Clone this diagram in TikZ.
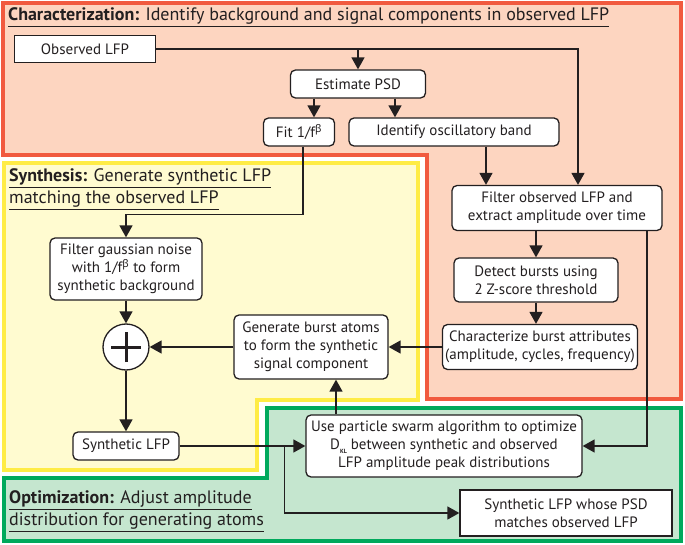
\documentclass[tikz,border=0pt]{standalone}
\usepackage{fontspec}
\setmainfont{PT Sans}
\newfontfamily\grk{Noto Sans}
\usetikzlibrary{arrows.meta}
\definecolor{ink}{HTML}{231F20}
\definecolor{redb}{HTML}{F15A3F}
\definecolor{redf}{HTML}{FDD5C0}
\definecolor{yelb}{HTML}{FFEC45}
\definecolor{yelf}{HTML}{FFFBD0}
\definecolor{grnb}{HTML}{00A95C}
\definecolor{grnf}{HTML}{C5E6CF}
\newcommand{\bet}{\textsuperscript{\grk β}}
\newcommand{\ul}[1]{\underline{\vphantom{gy}#1}}
\tikzset{
  region/.style={line width=3.5pt, line join=miter},
  box/.style={draw=ink, fill=white, line width=1.3pt, rounded corners=5pt, align=center, inner sep=0pt,
    font=\fontsize{15}{18}\selectfont, text=ink},
  sbox/.style={box, rounded corners=0pt},
  conn/.style={draw=ink, line width=1.5pt},
  arr/.style={conn, -{Triangle[length=12pt,width=13pt]}},
  ttl/.style={anchor=west, align=left, inner sep=0pt, text=ink, font=\fontsize{18}{22}\selectfont},
}
\begin{document}
\begin{tikzpicture}[x=1pt,y=-1pt]
\useasboundingbox (0,0) rectangle (685,545);
% regions
\draw[region, draw=redb, fill=redf] (3,3) -- (681,3) -- (681,399) -- (427,399) -- (427,155) -- (3,155) -- cycle;
\draw[region, draw=yelb, fill=yelf] (4,163) -- (418,163) -- (418,400) -- (257,400) -- (257,470) -- (4,470) -- cycle;
\draw[region, draw=grnb, fill=grnf] (4,478) -- (267,478) -- (267,408) -- (681,408) -- (681,541) -- (4,541) -- cycle;
% titles
\node[ttl] (t1) at (8,17) {\ul{\textbf{Characterization:} Identify background and signal components in observed LFP}};
\node[ttl] (t2) at (9,189) {\ul{\textbf{Synthesis:} Generate synthetic LFP}\\\ul{matching the observed LFP}};
\node[ttl] (t3) at (9,511) {\ul{\textbf{Optimization:} Adjust amplitude}\\\ul{distribution for generating atoms}};
% boxes
\node[sbox, minimum width=141, minimum height=27] (obs) at (85,49) {Observed LFP};
\node[box, minimum width=135, minimum height=28] (psd) at (358,84) {Estimate PSD};
\node[box, minimum width=71, minimum height=28] (fit) at (299,132) {Fit 1/f\bet};
\node[box, minimum width=210, minimum height=28] (osc) at (454,132) {Identify oscillatory band};
\node[box, minimum width=210, minimum height=45] (filt) at (557,208) {Filter observed LFP and\\extract amplitude over time};
\node[box, minimum width=164, minimum height=44] (det) at (536,280) {Detect bursts using\\2 Z-score threshold};
\node[box, minimum width=195, minimum height=45] (char) at (540,347) {Characterize burst attributes\\(amplitude, cycles, frequency)};
\node[box, minimum width=152, minimum height=62] (gauss) at (126,269) {Filter gaussian noise\\with 1/f\bet\ to form\\synthetic background};
\node[draw=ink, fill=white, line width=1.3pt, circle, minimum size=46, inner sep=0pt] (plus) at (126,347) {};
\draw[ink, line width=3pt] ([xshift=-15]plus.center) -- ([xshift=15]plus.center);
\draw[ink, line width=3pt] ([yshift=-15]plus.center) -- ([yshift=15]plus.center);
\node[box, minimum width=154, minimum height=64] (gen) at (311,347) {Generate burst atoms\\to form the synthetic\\signal component};
\node[box, minimum width=106, minimum height=28] (syn) at (126,446) {Synthetic LFP};
\node[box, minimum width=276, minimum height=62] (pso) at (444,446) {Use particle swarm algorithm to optimize\\D\raisebox{-0.5ex}{\fontsize{6}{6}\selectfont\textbf{KL}}\ between synthetic and observed\\LFP amplitude peak distributions};
\node[sbox, minimum width=212, minimum height=46] (fin) at (566,513) {Synthetic LFP whose PSD\\matches observed LFP};
% connectors
\draw[arr] (obs.east) -| ([xshift=21]filt.north);
\coordinate (j1) at (psd.north |- obs.east);
\draw[arr] (j1) -- (psd.north);
\draw[arr] ([xshift=15]fit.north |- psd.south) -- ([xshift=15]fit.north);
\draw[arr] ([xshift=-59]osc.north |- psd.south) -- ([xshift=-59]osc.north);
\draw[arr] ([xshift=4]fit.south) -- ++(0,68) -| (gauss.north);
\draw[arr] ([xshift=32]osc.south) -- ([xshift=32]osc.south |- filt.north);
\draw[arr] (det.north |- filt.south) -- (det.north);
\draw[arr] (det.south) -- (det.south |- char.north);
\draw[arr] ([xshift=90]filt.south) |- (pso.east);
\draw[arr] (char.west) -- (gen.east);
\draw[arr] (gen.west) -- (plus.east);
\draw[arr] (gauss.south) -- (plus.north);
\draw[arr] (plus.south) -- (syn.north);
\draw[arr] (syn.east) -- (pso.west);
\coordinate (j2) at ([xshift=105]syn.east);
\draw[arr] (j2) |- (fin.west);
\draw[arr] ([xshift=-108]pso.north) -- ([xshift=-108]pso.north |- gen.south);
\end{tikzpicture}
\end{document}
